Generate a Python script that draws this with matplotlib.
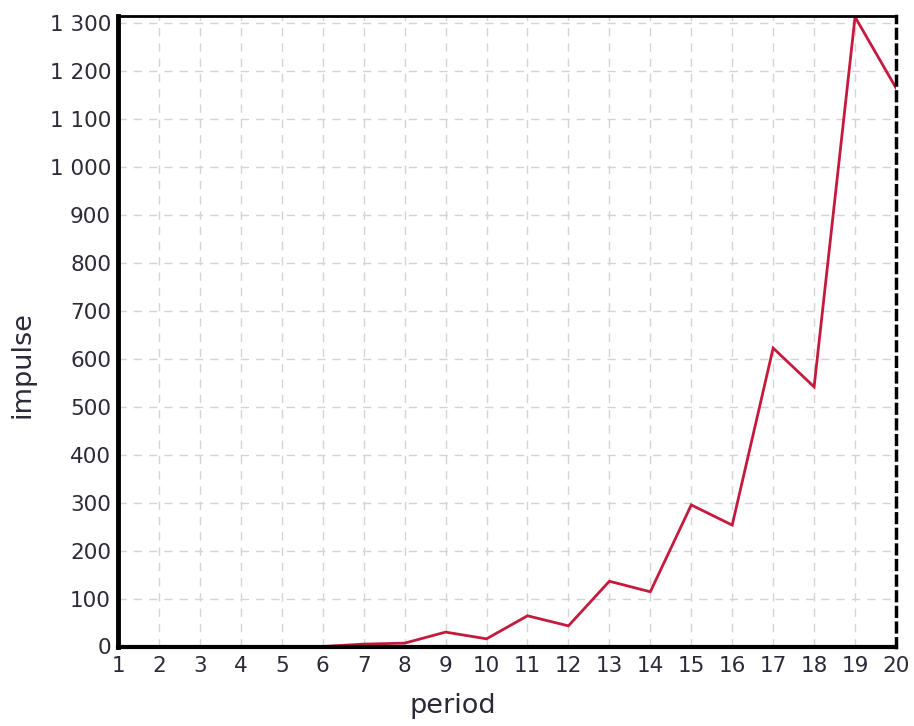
import matplotlib
matplotlib.use("Agg")
import matplotlib.pyplot as plt

periods = list(range(1, 21))
impulse = [0, 0, 0, 0, 0, 0, 5, 7, 30, 16, 64, 43, 136, 114, 295, 253, 622, 541, 1312, 1164]
y_ticks = [0, 100, 200, 300, 400, 500, 600, 700, 800, 900, 1000, 1100, 1200, 1300]
y_tick_labels = ["0", "100", "200", "300", "400", "500", "600", "700", "800", "900",
                 "1 000", "1 100", "1 200", "1 300"]
x_label = "period"
y_label = "impulse"

plt.rcParams['font.family'] = ['DejaVu Sans']

W, H = 914, 726
fig = plt.figure(figsize=(W / 100, H / 100), dpi=100)
fig.patch.set_facecolor("white")
left, right, bottom, top = 118, 896, 646.5, 15.5
ax = fig.add_axes([left / W, 1 - bottom / H, (right - left) / W, (bottom - top) / H])

ax.plot(periods, impulse, color="#c41a3e", linewidth=2.0, zorder=3,
        solid_joinstyle="miter")

ax.set_xlim(1, 20)
ax.set_ylim(0, 1315)
ax.set_xticks(periods)
ax.set_xticklabels([str(p) for p in periods])
ax.set_yticks(y_ticks)
ax.set_yticklabels(y_tick_labels)

ax.grid(True, color="#d4d4d4", linestyle=(0, (6, 5)), linewidth=1.0, zorder=0)
ax.set_axisbelow(True)

ax.tick_params(axis="both", length=0, labelsize=15.5, labelcolor="#2b2b38")
ax.tick_params(axis="x", pad=7)
ax.tick_params(axis="y", pad=5)

for s in ["top", "left"]:
    ax.spines[s].set_color("black")
ax.spines["top"].set_linewidth(2.0)
ax.spines["left"].set_linewidth(3.5)
ax.spines["bottom"].set_linewidth(3.0)
ax.spines["bottom"].set_linestyle((0, (4, 1)))
ax.spines["right"].set_linewidth(2.5)
ax.spines["right"].set_linestyle((0, (2.5, 2)))
for s in ax.spines.values():
    s.set_zorder(4)

fig.text(453 / W, 1 - 706 / H, x_label, ha="center", va="center",
         fontsize=19.5, color="#2b2b38")
fig.text(23 / W, 1 - 365 / H, y_label, ha="center", va="center",
         rotation=90, fontsize=19.5, color="#2b2b38")

fig.savefig("out.png", dpi=100, facecolor="white")
